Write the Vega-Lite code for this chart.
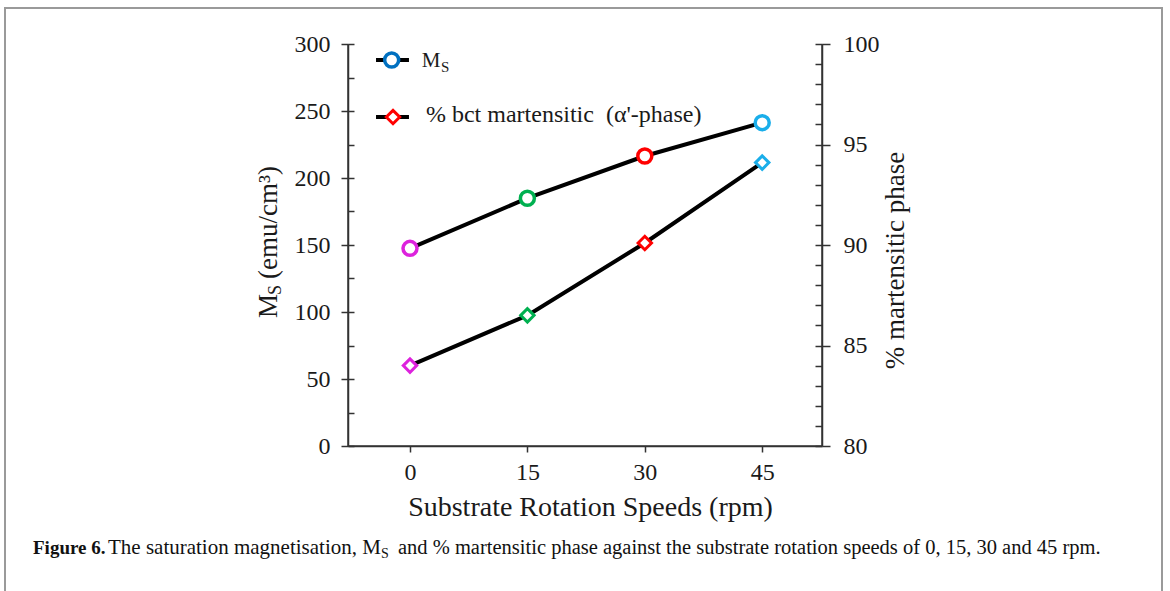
{
  "$schema": "https://vega.github.io/schema/vega-lite/v6.json",
  "width": 474,
  "height": 402,
  "autosize": {"type": "none"},
  "padding": {"left": 348, "top": 44, "right": 348, "bottom": 145},
  "background": "white",
  "config": {
    "view": {"stroke": null},
    "font": "Liberation Serif",
    "axis": {"labelFont": "Liberation Serif", "titleFont": "Liberation Serif", "labelColor": "#1a1a1a", "titleColor": "#1a1a1a", "domainColor": "#333333", "tickColor": "#333333", "domainWidth": 1.5, "tickWidth": 1.5, "grid": false, "titleFontWeight": "normal"}
  },
  "data": {"values": [
    {"speed": 0, "ms": 147.5, "mart": 84.0},
    {"speed": 15, "ms": 184.9, "mart": 86.5},
    {"speed": 30, "ms": 216.4, "mart": 90.1},
    {"speed": 45, "ms": 241.3, "mart": 94.1}
  ]},
  "layer": [
    {
      "data": {"values": [{}]},
      "mark": {"type": "rect", "fill": "transparent", "stroke": "#9a9a9a", "strokeWidth": 2},
      "encoding": {"x": {"value": -343}, "x2": {"value": 814}, "y": {"value": -36}, "y2": {"value": 560}}
    },
    {
      "data": {"values": [{}]},
      "mark": {"type": "rule", "color": "#333333", "strokeWidth": 1.5},
      "encoding": {
        "x": {"datum": -7.92, "type": "quantitative", "scale": {"domain": [-7.92, 52.64], "nice": false, "zero": false}, "axis": {"orient": "bottom", "values": [0, 15, 30, 45], "tickSize": 6, "labelPadding": 8, "labelFontSize": 24, "labelFlush": false, "title": "Substrate Rotation Speeds (rpm)", "titleFontSize": 28, "titleX": 242, "titleY": 69, "titleAlign": "center", "titleBaseline": "alphabetic"}},
        "x2": {"datum": 52.64},
        "y": {"datum": 0, "type": "quantitative", "scale": {"domain": [0, 300], "nice": false, "zero": false}, "axis": null}
      }
    },
    {
      "data": {"values": [{}]},
      "mark": {"type": "rule", "color": "#333333", "strokeWidth": 1.5},
      "encoding": {
        "x": {"datum": -7.92, "type": "quantitative", "axis": {"orient": "bottom", "values": [0, 15, 30, 45], "tickSize": 6, "labelPadding": 8, "labelFontSize": 24, "labelFlush": false, "title": "Substrate Rotation Speeds (rpm)", "titleFontSize": 28, "titleX": 242, "titleY": 69, "titleAlign": "center", "titleBaseline": "alphabetic"}},
        "y": {"datum": 0, "type": "quantitative", "scale": {"domain": [0, 300], "nice": false, "zero": false}, "axis": null},
        "y2": {"datum": 300}
      }
    },
    {
      "data": {"values": [{}]},
      "mark": {"type": "rule", "color": "#333333", "strokeWidth": 1.5},
      "encoding": {
        "x": {"datum": 52.64, "type": "quantitative", "axis": {"orient": "bottom", "values": [0, 15, 30, 45], "tickSize": 6, "labelPadding": 8, "labelFontSize": 24, "labelFlush": false, "title": "Substrate Rotation Speeds (rpm)", "titleFontSize": 28, "titleX": 242, "titleY": 69, "titleAlign": "center", "titleBaseline": "alphabetic"}},
        "y": {"datum": 0, "type": "quantitative", "scale": {"domain": [0, 300], "nice": false, "zero": false}, "axis": null},
        "y2": {"datum": 300}
      }
    },
    {
      "mark": {"type": "line", "color": "black", "strokeWidth": 4},
      "encoding": {
        "x": {"field": "speed", "type": "quantitative", "axis": {"orient": "bottom", "values": [0, 15, 30, 45], "tickSize": 6, "labelPadding": 8, "labelFontSize": 24, "labelFlush": false, "title": "Substrate Rotation Speeds (rpm)", "titleFontSize": 28, "titleX": 242, "titleY": 69, "titleAlign": "center", "titleBaseline": "alphabetic"}},
        "y": {"field": "ms", "type": "quantitative", "scale": {"domain": [0, 300], "nice": false, "zero": false},
          "axis": {"orient": "left", "values": [0, 50, 100, 150, 200, 250, 300], "tickSize": 7, "labelPadding": 11, "labelFontSize": 24, "labelFlush": false, "title": null}}
      }
    },
    {
      "mark": {"type": "point", "shape": "circle", "size": 196, "strokeWidth": 3.5, "fill": "white", "fillOpacity": 1, "opacity": 1},
      "encoding": {
        "x": {"field": "speed", "type": "quantitative", "axis": {"orient": "bottom", "values": [0, 15, 30, 45], "tickSize": 6, "labelPadding": 8, "labelFontSize": 24, "labelFlush": false, "title": "Substrate Rotation Speeds (rpm)", "titleFontSize": 28, "titleX": 242, "titleY": 69, "titleAlign": "center", "titleBaseline": "alphabetic"}},
        "y": {"field": "ms", "type": "quantitative", "scale": {"domain": [0, 300], "nice": false, "zero": false},
          "axis": {"orient": "left", "values": [0, 25, 50, 75, 100, 125, 150, 175, 200, 225, 250, 275, 300], "tickSize": -6, "labels": false, "domain": false, "title": null}},
        "stroke": {"field": "speed", "type": "nominal", "scale": {"domain": [0, 15, 30, 45], "range": ["#dd22dd", "#00b050", "#ff0000", "#1aaeea"]}, "legend": null}
      }
    },
    {
      "mark": {"type": "line", "color": "black", "strokeWidth": 4},
      "encoding": {
        "x": {"field": "speed", "type": "quantitative", "axis": {"orient": "bottom", "values": [0, 15, 30, 45], "tickSize": 6, "labelPadding": 8, "labelFontSize": 24, "labelFlush": false, "title": "Substrate Rotation Speeds (rpm)", "titleFontSize": 28, "titleX": 242, "titleY": 69, "titleAlign": "center", "titleBaseline": "alphabetic"}},
        "y": {"field": "mart", "type": "quantitative", "scale": {"domain": [80, 100], "nice": false, "zero": false},
          "axis": {"orient": "right", "values": [80, 85, 90, 95, 100], "tickSize": 8, "labelPadding": 13, "labelFontSize": 24, "labelFlush": false, "title": "% martensitic phase", "titleFontSize": 27, "titleAngle": 270, "titleX": 81, "titleY": 216, "titleAlign": "center", "titleBaseline": "alphabetic"}}
      }
    },
    {
      "mark": {"type": "point", "shape": "diamond", "size": 180, "strokeWidth": 3, "fill": "white", "fillOpacity": 1, "opacity": 1},
      "encoding": {
        "x": {"field": "speed", "type": "quantitative", "axis": {"orient": "bottom", "values": [0, 15, 30, 45], "tickSize": 6, "labelPadding": 8, "labelFontSize": 24, "labelFlush": false, "title": "Substrate Rotation Speeds (rpm)", "titleFontSize": 28, "titleX": 242, "titleY": 69, "titleAlign": "center", "titleBaseline": "alphabetic"}},
        "y": {"field": "mart", "type": "quantitative", "scale": {"domain": [80, 100], "nice": false, "zero": false},
          "axis": {"orient": "right", "values": [80, 81, 82, 83, 84, 85, 86, 87, 88, 89, 90, 91, 92, 93, 94, 95, 96, 97, 98, 99, 100], "tickSize": -7, "labels": false, "domain": false, "title": null}},
        "stroke": {"field": "speed", "type": "nominal", "scale": {"domain": [0, 15, 30, 45], "range": ["#dd22dd", "#00b050", "#ff0000", "#1aaeea"]}, "legend": null}
      }
    },
    {
      "data": {"values": [{}]},
      "mark": {"type": "rule", "color": "black", "strokeWidth": 4},
      "encoding": {"x": {"datum": -4.34, "type": "quantitative", "axis": {"orient": "bottom", "values": [0, 15, 30, 45], "tickSize": 6, "labelPadding": 8, "labelFontSize": 24, "labelFlush": false, "title": "Substrate Rotation Speeds (rpm)", "titleFontSize": 28, "titleX": 242, "titleY": 69, "titleAlign": "center", "titleBaseline": "alphabetic"}}, "x2": {"datum": -0.13}, "y": {"datum": 288.1, "type": "quantitative", "scale": {"domain": [0, 300], "nice": false, "zero": false}, "axis": null}}
    },
    {
      "data": {"values": [{}]},
      "mark": {"type": "rule", "color": "black", "strokeWidth": 4},
      "encoding": {"x": {"datum": -4.34, "type": "quantitative", "axis": {"orient": "bottom", "values": [0, 15, 30, 45], "tickSize": 6, "labelPadding": 8, "labelFontSize": 24, "labelFlush": false, "title": "Substrate Rotation Speeds (rpm)", "titleFontSize": 28, "titleX": 242, "titleY": 69, "titleAlign": "center", "titleBaseline": "alphabetic"}}, "x2": {"datum": -0.13}, "y": {"datum": 245.5, "type": "quantitative", "scale": {"domain": [0, 300], "nice": false, "zero": false}, "axis": null}}
    },
    {
      "data": {"values": [{}]},
      "mark": {"type": "point", "shape": "circle", "size": 196, "strokeWidth": 3.5, "fill": "white", "fillOpacity": 1, "opacity": 1, "stroke": "#0070c0"},
      "encoding": {"x": {"datum": -2.34, "type": "quantitative", "axis": {"orient": "bottom", "values": [0, 15, 30, 45], "tickSize": 6, "labelPadding": 8, "labelFontSize": 24, "labelFlush": false, "title": "Substrate Rotation Speeds (rpm)", "titleFontSize": 28, "titleX": 242, "titleY": 69, "titleAlign": "center", "titleBaseline": "alphabetic"}}, "y": {"datum": 288.1, "type": "quantitative", "scale": {"domain": [0, 300], "nice": false, "zero": false}, "axis": null}}
    },
    {
      "data": {"values": [{}]},
      "mark": {"type": "point", "shape": "diamond", "size": 180, "strokeWidth": 3, "fill": "white", "fillOpacity": 1, "opacity": 1, "stroke": "#ff0000"},
      "encoding": {"x": {"datum": -2.17, "type": "quantitative", "axis": {"orient": "bottom", "values": [0, 15, 30, 45], "tickSize": 6, "labelPadding": 8, "labelFontSize": 24, "labelFlush": false, "title": "Substrate Rotation Speeds (rpm)", "titleFontSize": 28, "titleX": 242, "titleY": 69, "titleAlign": "center", "titleBaseline": "alphabetic"}}, "y": {"datum": 245.5, "type": "quantitative", "scale": {"domain": [0, 300], "nice": false, "zero": false}, "axis": null}}
    },
    {
      "data": {"values": [{}]},
      "mark": {"type": "text", "text": "M", "fontSize": 21, "align": "left", "baseline": "alphabetic", "color": "#1a1a1a"},
      "encoding": {"x": {"datum": 1.5, "type": "quantitative", "axis": {"orient": "bottom", "values": [0, 15, 30, 45], "tickSize": 6, "labelPadding": 8, "labelFontSize": 24, "labelFlush": false, "title": "Substrate Rotation Speeds (rpm)", "titleFontSize": 28, "titleX": 242, "titleY": 69, "titleAlign": "center", "titleBaseline": "alphabetic"}}, "y": {"datum": 282.8, "type": "quantitative", "scale": {"domain": [0, 300], "nice": false, "zero": false}, "axis": null}}
    },
    {
      "data": {"values": [{}]},
      "mark": {"type": "text", "text": "S", "fontSize": 15, "align": "left", "baseline": "alphabetic", "color": "#1a1a1a"},
      "encoding": {"x": {"datum": 3.95, "type": "quantitative", "axis": {"orient": "bottom", "values": [0, 15, 30, 45], "tickSize": 6, "labelPadding": 8, "labelFontSize": 24, "labelFlush": false, "title": "Substrate Rotation Speeds (rpm)", "titleFontSize": 28, "titleX": 242, "titleY": 69, "titleAlign": "center", "titleBaseline": "alphabetic"}}, "y": {"datum": 279.1, "type": "quantitative", "scale": {"domain": [0, 300], "nice": false, "zero": false}, "axis": null}}
    },
    {
      "data": {"values": [{}]},
      "mark": {"type": "text", "text": "% bct martensitic\u00a0 (α'-phase)", "fontSize": 24, "align": "left", "baseline": "alphabetic", "color": "#1a1a1a"},
      "encoding": {"x": {"datum": 2.04, "type": "quantitative", "axis": {"orient": "bottom", "values": [0, 15, 30, 45], "tickSize": 6, "labelPadding": 8, "labelFontSize": 24, "labelFlush": false, "title": "Substrate Rotation Speeds (rpm)", "titleFontSize": 28, "titleX": 242, "titleY": 69, "titleAlign": "center", "titleBaseline": "alphabetic"}}, "y": {"datum": 242.0, "type": "quantitative", "scale": {"domain": [0, 300], "nice": false, "zero": false}, "axis": null}}
    },
    {
      "data": {"values": [{}]},
      "mark": {"type": "text", "text": "M", "fontSize": 27, "angle": 270, "align": "left", "baseline": "alphabetic", "color": "#1a1a1a"},
      "encoding": {"x": {"value": -71}, "y": {"value": 274}}
    },
    {
      "data": {"values": [{}]},
      "mark": {"type": "text", "text": "S", "fontSize": 18, "angle": 270, "align": "left", "baseline": "alphabetic", "color": "#1a1a1a"},
      "encoding": {"x": {"value": -67}, "y": {"value": 251}}
    },
    {
      "data": {"values": [{}]},
      "mark": {"type": "text", "text": "(emu/cm³)", "fontSize": 27, "angle": 270, "align": "left", "baseline": "alphabetic", "color": "#1a1a1a"},
      "encoding": {"x": {"value": -71}, "y": {"value": 235}}
    },
    {
      "data": {"values": [{}]},
      "mark": {"type": "text", "text": "Figure 6.", "fontSize": 19, "fontWeight": "bold", "align": "left", "baseline": "alphabetic", "color": "#111111"},
      "encoding": {"x": {"value": -315}, "y": {"value": 510}}
    },
    {
      "data": {"values": [{}]},
      "mark": {"type": "text", "text": "The saturation magnetisation, M", "fontSize": 21, "align": "left", "baseline": "alphabetic", "color": "#111111"},
      "encoding": {"x": {"value": -240}, "y": {"value": 510}}
    },
    {
      "data": {"values": [{}]},
      "mark": {"type": "text", "text": "S", "fontSize": 14, "align": "left", "baseline": "alphabetic", "color": "#111111"},
      "encoding": {"x": {"value": 33}, "y": {"value": 514}}
    },
    {
      "data": {"values": [{}]},
      "mark": {"type": "text", "text": "and % martensitic phase against the substrate rotation speeds of 0, 15, 30 and 45 rpm.", "fontSize": 20.5, "align": "left", "baseline": "alphabetic", "color": "#111111"},
      "encoding": {"x": {"value": 50}, "y": {"value": 510}}
    }
  ],
  "resolve": {"scale": {"y": "independent"}, "axis": {"y": "independent"}}
}
